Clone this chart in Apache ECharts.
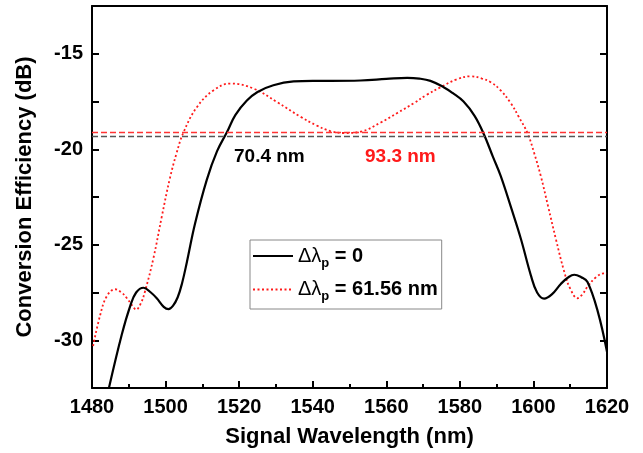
<!DOCTYPE html>
<html>
<head>
<meta charset="utf-8">
<script src="https://cdn.jsdelivr.net/npm/echarts@6/dist/echarts.min.js"></script>
<style>
  html, body { margin: 0; padding: 0; background: #fff; }
  #chart { width: 643px; height: 453px; }
</style>
</head>
<body>
<div id="chart"></div>
<script>
// values
var seriesNames = ['Δλp = 0', 'Δλp = 61.56 nm'];
var xTicks = [1480, 1500, 1520, 1540, 1560, 1580, 1600, 1620];
var yTicks = [-15, -20, -25, -30];

var pump0 = [
    [1484.6,-32.5],[1488.1,-29.7],[1490.4,-28.2],[1492,-27.5],[1494,-27.25],[1496,-27.5],
    [1497.6,-27.8],[1499.5,-28.25],[1500.8,-28.37],[1502,-28.2],[1503.3,-27.75],[1504.5,-27],
    [1505.8,-25.9],[1508,-23.9],[1511.2,-21.6],[1514,-20.1],[1516.7,-19.1],[1519,-18.2],
    [1522.1,-17.45],[1525,-17],[1529.3,-16.65],[1534.8,-16.45],[1540,-16.42],[1545,-16.42],
    [1553,-16.4],[1560,-16.32],[1565.7,-16.26],[1569,-16.3],[1572,-16.42],[1575.6,-16.75],
    [1578,-17.05],[1581,-17.5],[1584,-18.25],[1586.5,-19.2],[1589,-20.4],[1591.1,-21.4],
    [1594,-23.1],[1596.6,-24.7],[1599.3,-26.6],[1601,-27.5],[1602.9,-27.82],[1605,-27.6],
    [1607.5,-27.04],[1609.5,-26.7],[1611.1,-26.57],[1613,-26.7],[1614.7,-26.95],[1617.5,-28.5],
    [1620,-30.6]
];

var pump6156 = [
    [1480.3,-30.3],[1482.2,-28.7],[1484,-27.7],[1486.3,-27.33],[1488,-27.5],[1489.5,-27.8],
    [1491,-28.2],[1492,-28.4],[1493.2,-28.1],[1494.4,-27.45],[1496.7,-25.7],[1499,-23.5],
    [1501.2,-21.5],[1503,-20.2],[1504.8,-19.15],[1508.5,-17.8],[1513,-16.92],[1517.6,-16.56],
    [1523.9,-16.82],[1530.3,-17.53],[1536.7,-18.3],[1541,-18.75],[1544.8,-19.05],[1548.4,-19.15],
    [1553,-19.08],[1558.5,-18.6],[1563,-18.1],[1567.4,-17.6],[1571,-17.15],[1574.8,-16.75],
    [1579,-16.35],[1583,-16.18],[1586,-16.3],[1588.4,-16.49],[1591,-16.9],[1593.9,-17.6],
    [1596,-18.3],[1598.4,-19.16],[1600.2,-20.2],[1602,-21.4],[1604,-23],[1606.1,-24.7],
    [1608.4,-26.43],[1610,-27.3],[1612,-27.8],[1613.3,-27.6],[1614.7,-27.2],[1617,-26.7],
    [1619.3,-26.5],[1620,-26.5]
];

// 3 dB levels
var level0 = -19.3;
var level6156 = -19.1;
var bandwidths = ['70.4 nm', '93.3 nm'];

var font = 'Liberation Sans, Arial, sans-serif';
var myChart = echarts.init(document.getElementById('chart'));

var axisCommon = {
    axisLine: { lineStyle: { color: '#000', width: 2 } },
    axisTick: { inside: true, length: 7, lineStyle: { color: '#000', width: 2 } },
    minorTick: { show: true, splitNumber: 2, length: 4, lineStyle: { color: '#000', width: 2 } },
    splitLine: { show: false }
};

var legendText = {};
legendText[seriesNames[0]] = '{n|Δλ}{s|p}{b| = 0}';
legendText[seriesNames[1]] = '{n|Δλ}{s|p}{b| = 61.56 nm}';

var option = {
    animation: false,
    backgroundColor: '#fff',
    grid: { left: 92, right: 36, top: 6, bottom: 63 },
    xAxis: [
        Object.assign({
            type: 'value', min: 1480, max: 1620, interval: 20,
            name: 'Signal Wavelength (nm)', nameLocation: 'middle', nameGap: 38,
            nameTextStyle: { fontFamily: font, fontWeight: 'bold', fontSize: 22, color: '#000' },
            axisLabel: { fontFamily: font, fontWeight: 'bold', fontSize: 20, color: '#000', margin: 9,
                formatter: function (v) { return xTicks.indexOf(v) >= 0 ? v : ''; } }
        }, axisCommon),
        Object.assign({
            type: 'value', position: 'top', min: 1480, max: 1620, interval: 20,
            axisLabel: { show: false }
        }, axisCommon, { axisTick: { show: false }, minorTick: { show: false } })
    ],
    yAxis: [
        Object.assign({
            type: 'value', min: -32.5, max: -12.5, interval: 2.5,
            name: 'Conversion Efficiency (dB)', nameLocation: 'middle', nameGap: 56,
            nameTextStyle: { fontFamily: font, fontWeight: 'bold', fontSize: 22, color: '#000' },
            axisLabel: { fontFamily: font, fontWeight: 'bold', fontSize: 20, color: '#000', margin: 9,
                formatter: function (v) { return yTicks.indexOf(v) >= 0 ? v : ''; } }
        }, axisCommon, { minorTick: { show: false } }),
        Object.assign({
            type: 'value', position: 'right', min: -32.5, max: -12.5, interval: 2.5,
            axisLabel: { show: false }
        }, axisCommon, { minorTick: { show: false } })
    ],
    legend: {
        orient: 'vertical',
        left: 250, top: 240,
        padding: [6, 4, 6, 2],
        itemGap: 10,
        itemWidth: 40, itemHeight: 14,
        borderColor: '#888', borderWidth: 1,
        data: seriesNames,
        itemStyle: { opacity: 0 },
        formatter: function (name) { return legendText[name]; },
        textStyle: {
            fontFamily: font, fontSize: 20, color: '#000',
            rich: {
                n: { fontFamily: font, fontSize: 20, color: '#000' },
                s: { fontFamily: font, fontSize: 13, fontWeight: 'bold', color: '#000', verticalAlign: 'bottom', padding: [14, 0, 0, 0] },
                b: { fontFamily: font, fontSize: 20, fontWeight: 'bold', color: '#000' }
            }
        }
    },
    graphic: [
        { type: 'text', left: 234, top: 147,
          style: { text: bandwidths[0], fill: '#000', font: 'bold 19px ' + font } },
        { type: 'text', left: 365, top: 147,
          style: { text: bandwidths[1], fill: '#ff1a1a', font: 'bold 19px ' + font } }
    ],
    series: [
        {
            name: seriesNames[0], type: 'line', data: pump0,
            smooth: 0.4, symbol: 'none', clip: true,
            lineStyle: { color: '#000', width: 2.2 },
            itemStyle: { color: '#000' },
            markLine: {
                silent: true, symbol: 'none', label: { show: false },
                lineStyle: { color: '#555', type: [6, 3], width: 1.3 },
                data: [{ yAxis: level0 }]
            },
            z: 3
        },
        {
            name: seriesNames[1], type: 'line', data: pump6156,
            smooth: 0.4, symbol: 'none', clip: true,
            lineStyle: { color: '#ff1a1a', width: 1.8, type: [2, 2.5] },
            itemStyle: { color: '#ff1a1a' },
            markLine: {
                silent: true, symbol: 'none', label: { show: false },
                lineStyle: { color: '#ff3333', type: [6, 3], width: 1.3 },
                data: [{ yAxis: level6156 }]
            },
            z: 2
        }
    ]
};

myChart.setOption(option);
</script>
</body>
</html>
